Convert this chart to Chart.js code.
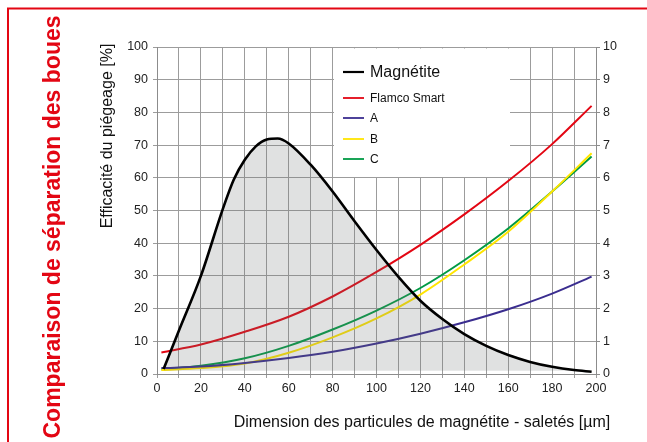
<!DOCTYPE html>
<html>
<head>
<meta charset="utf-8">
<script src="https://cdn.jsdelivr.net/npm/chart.js@4.4.1/dist/chart.umd.min.js"></script>
<style>
	body { margin: 0; background: #fff; }
	canvas { display: block; }
</style>
</head>
<body>
<canvas id="mycanvas" width="647" height="442"></canvas>
<script>
// values (x in µm, y in %)
var magX = [3, 10, 20, 30, 35, 40, 45, 50, 55, 60, 70, 80, 90, 100, 110, 120, 130, 140, 150, 160, 170, 180, 190, 198];
var magY = [1.5, 13.3, 30, 50.5, 59.5, 65.5, 69.6, 71.7, 72, 70.5, 64, 55.8, 46.7, 37.9, 29.7, 22.4, 16.8, 12.2, 8.6, 5.8, 3.7, 2.2, 1.2, 0.7];

var curveX = [2, 20, 40, 60, 80, 100, 120, 140, 160, 180, 198];
var flamco = [6.6, 9, 12.9, 17.5, 23.7, 31.2, 39.5, 48.8, 59, 70.3, 82];
var seriesA = [1.8, 2.3, 3.4, 4.9, 6.8, 9.3, 12.3, 15.8, 19.8, 24.6, 29.8];
var seriesB = [1.2, 1.8, 3.2, 6.5, 11.2, 17, 24.3, 33.5, 43.5, 55.8, 67.5];
var seriesC = [1.4, 2.5, 4.8, 8.6, 13.6, 19.4, 26.3, 34.8, 44.5, 55.8, 66.5];

var legendNames = ['Magnétite', 'Flamco Smart', 'A', 'B', 'C'];
var lineColors = ['#000000', '#e30613', '#3a2d8f', '#ffe500', '#009a44'];

var leftTicks = [0, 100, 10];
var rightTicks = [0, 10, 1];

var font = '"Liberation Sans", Arial, Helvetica, sans-serif';

function pts(xs, ys) {
	var out = [];
	for (var i in xs) {
		out.push({ x: xs[i], y: ys[i] });
	}
	return out;
}

var seriesData = [pts(magX, magY), pts(curveX, flamco), pts(curveX, seriesA), pts(curveX, seriesB), pts(curveX, seriesC)];

var datasets = [];
for (var i = 0; i < seriesData.length; i++) {
	datasets.push({
		label: legendNames[i],
		data: seriesData[i],
		borderColor: lineColors[i],
		borderWidth: i == 0 ? 2.6 : 2,
		backgroundColor: i == 0 ? 'rgba(108,114,114,0.21)' : lineColors[i],
		fill: i == 0 ? { value: 1 } : false,
		pointRadius: 0,
		cubicInterpolationMode: 'monotone'
	});
}

// white legend box inside the plot, over the grid but under the lines
var legendBox = {
	id: 'legendBox',
	beforeDatasetsDraw: function(chart) {
		var ctx = chart.ctx;
		ctx.save();
		ctx.fillStyle = '#ffffff';
		ctx.fillRect(334, 48.5, 176, 128.5);
		var rows = [72, 98, 118, 139, 159];
		for (var i = 0; i < legendNames.length; i++) {
			ctx.strokeStyle = lineColors[i];
			ctx.lineWidth = i == 0 ? 2.2 : 1.8;
			ctx.beginPath();
			ctx.moveTo(343, rows[i]);
			ctx.lineTo(364, rows[i]);
			ctx.stroke();
			ctx.fillStyle = '#111';
			ctx.font = (i == 0 ? '16px ' : '12px ') + font;
			ctx.textBaseline = 'middle';
			ctx.textAlign = 'left';
			ctx.fillText(legendNames[i], 370, rows[i] + 1);
		}
		ctx.restore();
	}
};

// frame and titles
var decorations = {
	id: 'decorations',
	afterDraw: function(chart) {
		var ctx = chart.ctx;
		ctx.save();
		ctx.strokeStyle = '#e30613';
		ctx.lineWidth = 2;
		ctx.beginPath();
		ctx.moveTo(8, 442);
		ctx.lineTo(8, 8.5);
		ctx.lineTo(647, 8.5);
		ctx.stroke();

		ctx.fillStyle = '#e30613';
		ctx.font = 'bold 23px ' + font;
		ctx.textAlign = 'center';
		ctx.textBaseline = 'middle';
		ctx.translate(54, 227);
		ctx.rotate(-Math.PI / 2);
		ctx.fillText('Comparaison de séparation des boues', 0, 0);
		ctx.restore();

		ctx.save();
		ctx.fillStyle = '#111';
		ctx.font = '16px ' + font;
		ctx.textAlign = 'center';
		ctx.textBaseline = 'middle';
		ctx.translate(108, 136);
		ctx.rotate(-Math.PI / 2);
		ctx.fillText('Efficacité du piégeage [%]', 0, 0);
		ctx.restore();

		ctx.save();
		ctx.fillStyle = '#111';
		ctx.font = '16px ' + font;
		ctx.textAlign = 'center';
		ctx.textBaseline = 'middle';
		ctx.fillText('Dimension des particules de magnétite - saletés [µm]', 422, 423);
		ctx.restore();
	}
};

var ctx = document.getElementById('mycanvas');

var lineGraph = new Chart(ctx, {
	type: 'line',
	data: { datasets: datasets },
	options: {
		responsive: false,
		animation: false,
		layout: { padding: { top: 47, left: 0, right: 0, bottom: 0 } },
		plugins: {
			legend: { display: false },
			tooltip: { enabled: false }
		},
		scales: {
			x: {
				type: 'linear',
				min: 0,
				max: 200,
				ticks: {
					stepSize: 10,
					maxRotation: 0,
					autoSkip: false,
					color: '#222',
					font: { family: font, size: 12.5 },
					padding: 3,
					callback: function(v) { return v % 20 == 0 ? v : ''; }
				},
				grid: { color: '#9c9c9c', tickLength: 4, lineWidth: 1 },
				border: { color: '#8c8c8c' },
				afterFit: function(scale) { scale.height = 68; }
			},
			y: {
				position: 'left',
				min: leftTicks[0],
				max: leftTicks[1],
				ticks: {
					stepSize: leftTicks[2],
					color: '#222',
					font: { family: font, size: 12.5 },
					padding: 5
				},
				grid: { color: '#9c9c9c', tickLength: 4, lineWidth: 1 },
				border: { color: '#8c8c8c' },
				afterFit: function(scale) { scale.width = 157; }
			},
			y2: {
				position: 'right',
				min: rightTicks[0],
				max: rightTicks[1],
				ticks: {
					stepSize: rightTicks[2],
					color: '#222',
					font: { family: font, size: 12.5 },
					padding: 3
				},
				grid: { drawOnChartArea: false, color: '#8c8c8c', tickLength: 4 },
				border: { color: '#8c8c8c' },
				afterFit: function(scale) { scale.width = 51; }
			}
		}
	},
	plugins: [legendBox, decorations]
});
</script>
</body>
</html>
